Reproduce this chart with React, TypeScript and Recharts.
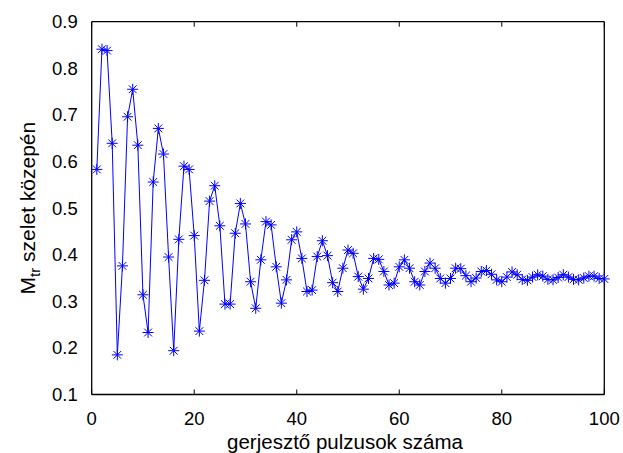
import { LineChart, Line, XAxis, YAxis, Label } from 'recharts'

// pulse index 1..100
const pulses = Array.from({ length: 100 }, (_, i) => i + 1)

// Mtr at the middle of the slice
const mtr = [
  0.583, 0.841, 0.838, 0.639, 0.185, 0.376, 0.696, 0.755, 0.635, 0.314,
  0.233, 0.556, 0.671, 0.616, 0.395, 0.194, 0.433, 0.590, 0.583, 0.441,
  0.236, 0.345, 0.515, 0.548, 0.462, 0.294, 0.294, 0.446, 0.510, 0.466,
  0.342, 0.285, 0.389, 0.471, 0.464, 0.374, 0.296, 0.346, 0.432, 0.449,
  0.392, 0.321, 0.324, 0.396, 0.430, 0.398, 0.340, 0.321, 0.371, 0.410,
  0.403, 0.353, 0.326, 0.349, 0.392, 0.390, 0.364, 0.335, 0.339, 0.374,
  0.389, 0.371, 0.342, 0.335, 0.364, 0.382, 0.371, 0.349, 0.339, 0.349,
  0.371, 0.370, 0.355, 0.342, 0.350, 0.364, 0.366, 0.358, 0.346, 0.342,
  0.352, 0.363, 0.357, 0.347, 0.345, 0.352, 0.357, 0.354, 0.347, 0.346,
  0.351, 0.357, 0.352, 0.347, 0.346, 0.350, 0.354, 0.354, 0.349, 0.348,
]

const xTicks = [0, 20, 40, 60, 80, 100]
const yTicks = [0.1, 0.2, 0.3, 0.4, 0.5, 0.6, 0.7, 0.8, 0.9]

const data = pulses.map((n, i) => ({ n, v: mtr[i] }))

const FONT = '"Liberation Sans", Arial, sans-serif'
const BLUE = '#0000ff'

// MATLAB style '*' marker
function Star(props: any) {
  const { cx, cy } = props
  if (cx == null || cy == null) return null
  const r = 5.5
  const d = 3.9
  return (
    <g stroke={BLUE} strokeWidth={1}>
      <line x1={cx - r} y1={cy} x2={cx + r} y2={cy} />
      <line x1={cx} y1={cy - r} x2={cx} y2={cy + r} />
      <line x1={cx - d} y1={cy - d} x2={cx + d} y2={cy + d} />
      <line x1={cx - d} y1={cy + d} x2={cx + d} y2={cy - d} />
    </g>
  )
}

function YTitle(props: any) {
  const vb = props.viewBox
  const x = vb.x + 3.5
  const y = vb.y + vb.height / 2
  return (
    <text
      x={x}
      y={y}
      transform={`rotate(-90, ${x}, ${y})`}
      textAnchor="middle"
      fontFamily={FONT}
      fontSize={21}
      fill="#000"
    >
      M<tspan fontSize={15} dy={5}>tr</tspan>
      <tspan dy={-5}> szelet közepén</tspan>
    </text>
  )
}

function XTitle(props: any) {
  const vb = props.viewBox
  return (
    <text
      x={vb.x + vb.width / 2 - 3}
      y={vb.y + 54}
      textAnchor="middle"
      fontFamily={FONT}
      fontSize={20.5}
      fill="#000"
    >
      gerjesztő pulzusok száma
    </text>
  )
}

const blank = () => ''

export default function App() {
  const axisLine = { stroke: '#000', strokeWidth: 1.3 }
  const tickLine = { stroke: '#000', strokeWidth: 1 }
  const tickStyle = { fill: '#000', fontSize: 18.5, fontFamily: FONT }

  return (
    <div style={{ position: 'absolute', left: 0, top: 0, width: 623, height: 453, background: '#fff' }}>
      <LineChart
        width={623}
        height={453}
        data={data}
        margin={{ top: 21.7, right: 18.7, bottom: 0, left: 31.7 }}
      >
        {/* bottom axis: labels only */}
        <XAxis
          dataKey="n"
          type="number"
          domain={[0, 100]}
          ticks={xTicks}
          height={58.5}
          axisLine={axisLine}
          tickLine={false}
          tickMargin={11}
          tick={tickStyle}
          interval={0}
        >
          <Label content={XTitle} />
        </XAxis>
        {/* inward tick marks, bottom and top */}
        <XAxis
          xAxisId="bm"
          orientation="bottom"
          mirror
          dataKey="n"
          type="number"
          domain={[0, 100]}
          ticks={xTicks}
          height={1}
          axisLine={false}
          tickLine={tickLine}
          tickSize={5}
          tickFormatter={blank}
          interval={0}
        />
        <XAxis
          xAxisId="tm"
          orientation="top"
          mirror
          dataKey="n"
          type="number"
          domain={[0, 100]}
          ticks={xTicks}
          height={1}
          axisLine={axisLine}
          tickLine={tickLine}
          tickSize={5}
          tickFormatter={blank}
          interval={0}
        />
        <YAxis
          type="number"
          domain={[0.1, 0.9]}
          ticks={yTicks}
          width={60}
          axisLine={axisLine}
          tickLine={false}
          tickMargin={8}
          tick={tickStyle}
          tickFormatter={(v: number) => v.toFixed(1)}
          interval={0}
        >
          <Label content={YTitle} />
        </YAxis>
        <YAxis
          yAxisId="lm"
          orientation="left"
          mirror
          type="number"
          domain={[0.1, 0.9]}
          ticks={yTicks}
          width={1}
          axisLine={false}
          tickLine={tickLine}
          tickSize={5}
          tickFormatter={blank}
          interval={0}
        />
        <YAxis
          yAxisId="rm"
          orientation="right"
          mirror
          type="number"
          domain={[0.1, 0.9]}
          ticks={yTicks}
          width={1}
          axisLine={axisLine}
          tickLine={tickLine}
          tickSize={5}
          tickFormatter={blank}
          interval={0}
        />
        <Line
          dataKey="v"
          stroke={BLUE}
          strokeWidth={1}
          dot={<Star />}
          activeDot={false}
          isAnimationActive={false}
        />
      </LineChart>
    </div>
  )
}
